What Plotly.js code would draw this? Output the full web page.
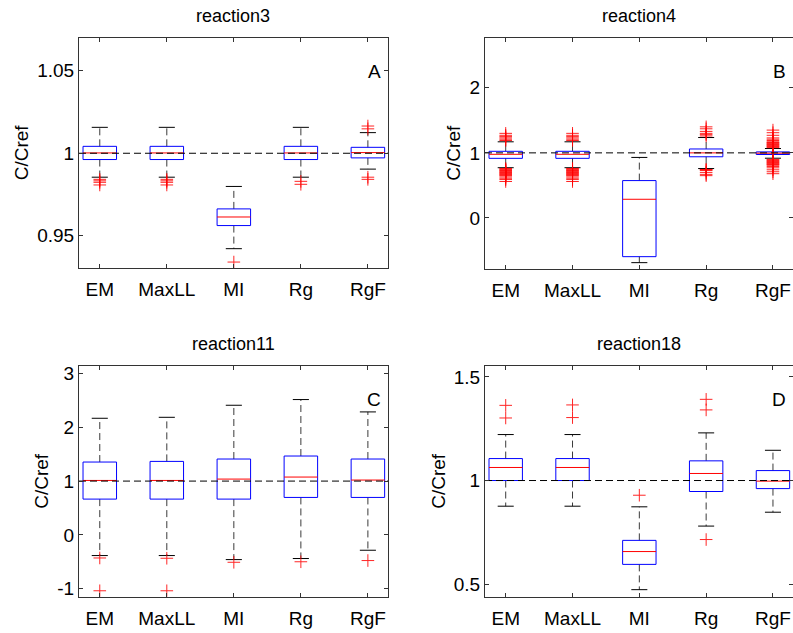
<!DOCTYPE html>
<html>
<head>
<meta charset="utf-8">
<script src="https://cdn.plot.ly/plotly-3.0.1.min.js"></script>
<style>html,body{margin:0;padding:0;background:#fff;}#chart{width:793px;height:633px;}</style>
</head>
<body>
<div id="chart"></div>
<script>
// ---------- DATA ----------
const categories = ["EM", "MaxLL", "MI", "Rg", "RgF"];
const panelTitles = ["reaction3", "reaction4", "reaction11", "reaction18"];
const panelLetters = ["A", "B", "C", "D"];
const refValue = 1;

// reaction3 (A)
const r3_lower  = [0.9855, 0.9855, 0.9422, 0.9855, 0.9904];
const r3_q1     = [0.9962, 0.9962, 0.9562, 0.9962, 0.9972];
const r3_median = [1.0002, 1.0002, 0.9614, 1.0002, 1.0004];
const r3_q3     = [1.0042, 1.0042, 0.9663, 1.0042, 1.0036];
const r3_upper  = [1.0157, 1.0157, 0.9799, 1.0157, 1.0125];
const r3_outliers = [
  [0.9842, 0.9833, 0.9824, 0.9808],
  [0.9842, 0.9833, 0.9824, 0.9808],
  [0.9341],
  [0.9830, 0.9812],
  [1.0165, 1.0148, 0.9855, 0.9842]
];

// reaction4 (B)
const r4_lower  = [0.772, 0.772, -0.687, 0.759, 0.918];
const r4_q1     = [0.916, 0.916, -0.595, 0.940, 0.975];
const r4_median = [0.978, 0.978, 0.287, 1.000, 0.995];
const r4_q3     = [1.024, 1.024, 0.574, 1.060, 1.015];
const r4_upper  = [1.170, 1.170, 0.930, 1.236, 1.067];
const r4_outliers = [
  [1.19, 1.21, 1.23, 1.25, 1.27, 1.30, 0.76, 0.75, 0.74, 0.73, 0.72, 0.71, 0.70, 0.69, 0.68, 0.67, 0.66, 0.65, 0.63, 0.61, 0.59, 0.56],
  [1.19, 1.21, 1.23, 1.25, 1.27, 1.30, 0.76, 0.75, 0.74, 0.73, 0.72, 0.71, 0.70, 0.69, 0.68, 0.67, 0.66, 0.65, 0.63, 0.61, 0.59, 0.56],
  [],
  [1.26, 1.28, 1.30, 1.33, 1.37, 1.40, 0.745, 0.74, 0.73, 0.70, 0.67, 0.65],
  [1.08, 1.09, 1.10, 1.11, 1.12, 1.13, 1.14, 1.15, 1.16, 1.17, 1.19, 1.21, 1.23, 1.27, 1.31, 1.35,
   0.90, 0.89, 0.88, 0.87, 0.86, 0.85, 0.84, 0.83, 0.82, 0.81, 0.79, 0.77, 0.74, 0.71, 0.68]
];

// reaction11 (C)
const r11_lower  = [-0.385, -0.385, -0.460, -0.440, -0.286];
const r11_q1     = [0.665, 0.665, 0.665, 0.696, 0.696];
const r11_median = [1.012, 1.012, 1.037, 1.075, 1.019];
const r11_q3     = [1.354, 1.366, 1.410, 1.466, 1.410];
const r11_upper  = [2.168, 2.186, 2.410, 2.516, 2.286];
const r11_outliers = [
  [-0.430, -1.040],
  [-0.435, -1.040],
  [-0.510],
  [-0.500],
  [-0.478]
];

// reaction18 (D)
const r18_lower  = [0.876, 0.876, 0.473, 0.780, 0.847];
const r18_q1     = [1.000, 1.000, 0.595, 0.947, 0.961];
const r18_median = [1.063, 1.063, 0.657, 1.034, 0.997];
const r18_q3     = [1.106, 1.106, 0.711, 1.095, 1.048];
const r18_upper  = [1.222, 1.222, 0.873, 1.230, 1.146];
const r18_outliers = [
  [1.363, 1.302],
  [1.365, 1.304],
  [0.929],
  [1.392, 1.341, 0.715],
  []
];

const yTickVals = [[0.95, 1, 1.05], [0, 1, 2], [-1, 0, 1, 2, 3], [0.5, 1, 1.5]];
const yTickText = [["0.95", "1", "1.05"], ["0", "1", "2"], ["-1", "0", "1", "2", "3"], ["0.5", "1", "1.5"]];
const yRanges = [[0.9305, 1.070], [-0.78, 2.77], [-1.15, 3.14], [0.439, 1.553]];

// ---------- BUILD ----------
const panels = [
  {lower: r3_lower, q1: r3_q1, med: r3_median, q3: r3_q3, upper: r3_upper, out: r3_outliers},
  {lower: r4_lower, q1: r4_q1, med: r4_median, q3: r4_q3, upper: r4_upper, out: r4_outliers},
  {lower: r11_lower, q1: r11_q1, med: r11_median, q3: r11_q3, upper: r11_upper, out: r11_outliers},
  {lower: r18_lower, q1: r18_q1, med: r18_median, q3: r18_q3, upper: r18_upper, out: r18_outliers}
];

const W = 793, H = 633;
const px = v => v / W, py = v => 1 - v / H;
const domX = [[px(79), px(388)], [px(485), 1], [px(79), px(388)], [px(485), 1]];
const domY = [[py(268), py(37.7)], [py(268.7), py(37.7)], [py(596.7), py(366)], [py(596.7), py(366)]];
const xRange = [0.69, 5.30];
const halfBox = 0.25, halfCap = 0.12;

const BLUE = "#0000ff", RED = "#ff0000", WHISK = "#3a3a3a";
const FONT = 19;
const traces = [];
const layout = {
  width: W, height: H,
  margin: {l: 0, r: 0, t: 0, b: 0},
  paper_bgcolor: "#ffffff", plot_bgcolor: "#ffffff",
  showlegend: false,
  font: {family: "Liberation Sans, Arial, sans-serif", size: FONT, color: "#000"},
  annotations: [], shapes: []
};

panels.forEach((p, k) => {
  const sfx = k === 0 ? "" : String(k + 1);
  const xa = "x" + sfx, ya = "y" + sfx;
  const wx = [], wy = [], cx = [], cy = [], bx = [], by = [], mx = [], my = [], ox = [], oy = [];
  categories.forEach((c, i) => {
    const x = i + 1;
    wx.push(x, x, null, x, x, null);
    wy.push(p.q3[i], p.upper[i], null, p.q1[i], p.lower[i], null);
    cx.push(x - halfCap, x + halfCap, null, x - halfCap, x + halfCap, null);
    cy.push(p.upper[i], p.upper[i], null, p.lower[i], p.lower[i], null);
    bx.push(x - halfBox, x + halfBox, x + halfBox, x - halfBox, x - halfBox, null);
    by.push(p.q1[i], p.q1[i], p.q3[i], p.q3[i], p.q1[i], null);
    mx.push(x - halfBox, x + halfBox, null);
    my.push(p.med[i], p.med[i], null);
    p.out[i].forEach(v => { ox.push(x); oy.push(v); });
  });
  traces.push({type: "scatter", mode: "lines", x: wx, y: wy, xaxis: xa, yaxis: ya,
    line: {color: WHISK, width: 1, dash: "7px,4px"}, hoverinfo: "skip"});
  traces.push({type: "scatter", mode: "lines", x: cx, y: cy, xaxis: xa, yaxis: ya,
    line: {color: "#000", width: 1}, hoverinfo: "skip"});
  traces.push({type: "scatter", mode: "lines", x: bx, y: by, xaxis: xa, yaxis: ya,
    line: {color: BLUE, width: 1}, hoverinfo: "skip"});
  traces.push({type: "scatter", mode: "lines", x: mx, y: my, xaxis: xa, yaxis: ya,
    line: {color: RED, width: 1}, hoverinfo: "skip"});
  traces.push({type: "scatter", mode: "markers", x: ox, y: oy, xaxis: xa, yaxis: ya,
    marker: {symbol: "cross-thin", size: 9, opacity: 0.85, line: {color: RED, width: 1}}, hoverinfo: "skip"});
  traces.push({type: "scatter", mode: "lines", x: xRange, y: [refValue, refValue], xaxis: xa, yaxis: ya,
    line: {color: "#000", width: 1, dash: "7px,4px"}, hoverinfo: "skip"});

  layout["xaxis" + sfx] = {
    domain: domX[k], anchor: ya, range: xRange,
    tickmode: "array", tickvals: categories.map((c, i) => i + 1), ticktext: categories,
    ticks: "inside", ticklen: 4, tickcolor: "#333", mirror: "ticks",
    showline: true, linecolor: "#333", linewidth: 1, showgrid: false, zeroline: false,
    tickfont: {size: FONT}, ticklabelstandoff: 4
  };
  layout["yaxis" + sfx] = {
    domain: domY[k], anchor: xa, range: yRanges[k],
    tickmode: "array", tickvals: yTickVals[k], ticktext: yTickText[k],
    ticks: "inside", ticklen: 4, tickcolor: "#333", mirror: "ticks",
    showline: true, linecolor: "#333", linewidth: 1, showgrid: false, zeroline: false,
    tickfont: {size: FONT},
    title: {text: "C/Cref", font: {size: FONT}, standoff: 3}
  };
  const dx = domX[k], dy = domY[k];
  layout.annotations.push({
    text: panelTitles[k], xref: "paper", yref: "paper",
    x: (dx[0] + dx[1]) / 2, y: dy[1] + 10 / H,
    xanchor: "center", yanchor: "bottom", showarrow: false, font: {size: 18}
  });
  layout.annotations.push({
    text: panelLetters[k], xref: xa + " domain", yref: ya + " domain",
    x: 0.985, y: 0.855, xanchor: "right", yanchor: "middle", showarrow: false, font: {size: FONT}
  });
});

Plotly.newPlot("chart", traces, layout, {staticPlot: true, displayModeBar: false});
</script>
</body>
</html>
